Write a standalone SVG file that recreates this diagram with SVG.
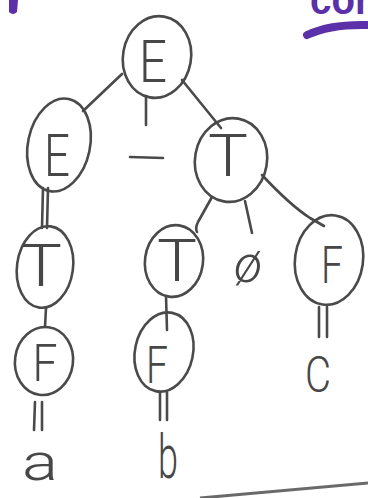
<svg xmlns="http://www.w3.org/2000/svg" width="368" height="498" viewBox="0 0 368 498">
  <style>
    .pen { fill: none; stroke: #4a4a4a; stroke-width: 2.6; stroke-linecap: round; stroke-linejoin: round; }
    .lbl { font-family: Roboto, "Open Sans", "Liberation Sans", sans-serif; font-weight: 300; fill: #474747; text-anchor: middle; }
    .big { font-size: 60px; }
    .leaf { font-size: 52px; }
    .marker { fill: #5b30a8; }
  </style>
  <rect width="368" height="498" fill="#ffffff"/>

  <!-- purple marker strokes at the top edge -->
  <path class="marker" d="M9,0 L18,0 L17,12 Q13,16 9,12 Z"/>
  <text x="340" y="14" font-family="Liberation Sans, sans-serif" font-weight="bold" font-size="42" fill="#5b30a8" text-anchor="middle" textLength="60" lengthAdjust="spacingAndGlyphs">cor</text>
  <path d="M307,35 Q330,24 368,25" fill="none" stroke="#5b30a8" stroke-width="8" stroke-linecap="round"/>

  <!-- connectors -->
  <g id="connectors" class="pen">
    <path d="M122,74 L83,111"/>
    <path d="M146,96 L146,125"/>
    <path d="M182,80 L221,128"/>
    <path d="M130,157 L163,158"/>
    <path d="M43,188 L42,228 M48,188 L47,228"/>
    <path d="M212,197 L198,222 Q195,228 197,232"/>
    <path d="M245,201 L252,233"/>
    <path d="M262,175 Q290,205 310,218 L324,226"/>
    <path d="M46,308 L45,327"/>
    <path d="M166,296 L167,330"/>
    <path d="M35,402 L34,430 M42,402 L42,430"/>
    <path d="M160,392 L160,420 M167,392 L167,420"/>
    <path d="M319,307 L319,337 M327,307 L327,337"/>
  </g>

  <!-- tree nodes -->
  <g id="node-E-root">
    <ellipse class="pen" cx="157" cy="57" rx="34" ry="41" transform="rotate(10 157 57)"/>
    <text class="lbl big" x="153" y="82" textLength="28" lengthAdjust="spacingAndGlyphs">E</text>
  </g>
  <g id="node-E-left">
    <ellipse class="pen" cx="59" cy="145" rx="31" ry="47" transform="rotate(12 59 145)"/>
    <text class="lbl big" x="57" y="176" textLength="26" lengthAdjust="spacingAndGlyphs">E</text>
  </g>
  <g id="node-T-right">
    <ellipse class="pen" cx="231" cy="160" rx="36" ry="42" transform="rotate(10 231 160)"/>
    <text class="lbl big" x="228" y="176" textLength="40" lengthAdjust="spacingAndGlyphs">T</text>
  </g>
  <g id="node-T-left">
    <ellipse class="pen" cx="45" cy="267" rx="28" ry="41" transform="rotate(8 45 267)"/>
    <text class="lbl big" x="41" y="286" textLength="42" lengthAdjust="spacingAndGlyphs">T</text>
  </g>
  <g id="node-T-mid">
    <ellipse class="pen" cx="174" cy="261" rx="29" ry="36" transform="rotate(8 174 261)"/>
    <text class="lbl big" x="177" y="281" textLength="40" lengthAdjust="spacingAndGlyphs">T</text>
  </g>
  <g id="node-F-right">
    <ellipse class="pen" cx="329" cy="260" rx="34" ry="45" transform="rotate(8 329 260)"/>
    <text class="lbl leaf" x="332" y="283" textLength="22" lengthAdjust="spacingAndGlyphs">F</text>
  </g>
  <g id="node-F-left">
    <ellipse class="pen" cx="44" cy="361" rx="29" ry="34" transform="rotate(8 44 361)"/>
    <text class="lbl leaf" x="45" y="381" textLength="25" lengthAdjust="spacingAndGlyphs">F</text>
  </g>
  <g id="node-F-mid">
    <ellipse class="pen" cx="164" cy="352" rx="29" ry="40" transform="rotate(12 164 352)"/>
    <text class="lbl leaf" x="157" y="383" textLength="22" lengthAdjust="spacingAndGlyphs">F</text>
  </g>

  <!-- leaves -->
  <text class="lbl leaf" x="248" y="282" font-size="34" font-style="italic">ø</text>
  <text class="lbl" x="40" y="480" font-size="52" textLength="36" lengthAdjust="spacingAndGlyphs">a</text>
  <text class="lbl" x="168" y="478" font-size="62" textLength="20" lengthAdjust="spacingAndGlyphs">b</text>
  <text class="lbl" x="318" y="392" font-size="50" textLength="26" lengthAdjust="spacingAndGlyphs">C</text>

  <!-- page edge at the bottom -->
  <path d="M200,498 L368,483" fill="none" stroke="#6a6a6a" stroke-width="3"/>
</svg>
